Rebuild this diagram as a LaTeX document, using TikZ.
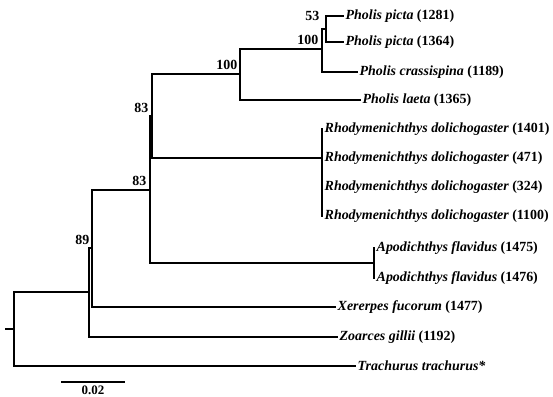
\documentclass[tikz,border=0pt]{standalone}
\usepackage{fontspec}
\setmainfont{Liberation Serif}
\begin{document}
\begin{tikzpicture}[x=1bp,y=-1bp,
  br/.style={line width=2.2bp,line cap=rect},
  tip/.style={anchor=west,inner sep=2.5bp,font=\fontsize{14}{15}\selectfont\bfseries},
  boot/.style={anchor=east,inner sep=0.5bp,font=\fontsize{14}{15}\selectfont\bfseries}]
\useasboundingbox (0,0) rectangle (553,396);
% internal nodes
\coordinate (stub) at (6,329);
\coordinate (root) at (14,329);
\coordinate (n89) at (89,292);
\coordinate (n92) at (92,248);
\coordinate (n83b) at (150,190);
\coordinate (n83a) at (152,116);
\coordinate (n100a) at (240,74);
\coordinate (n100b) at (322,49);
\coordinate (n53) at (326,29);
\coordinate (rho) at (322,158);
\coordinate (apo) at (374,263);
% tips
\node[tip] (pp1) at (343,16) {\textit{Pholis picta} (1281)};
\node[tip] (pp2) at (343,42) {\textit{Pholis picta} (1364)};
\node[tip] (pcr) at (357,72) {\textit{Pholis crassispina} (1189)};
\node[tip] (pla) at (360,100) {\textit{Pholis laeta} (1365)};
\node[tip] (r1) at (322,129) {\textit{Rhodymenichthys dolichogaster} (1401)};
\node[tip] (r2) at (322,158) {\textit{Rhodymenichthys dolichogaster} (471)};
\node[tip] (r3) at (322,187) {\textit{Rhodymenichthys dolichogaster} (324)};
\node[tip] (r4) at (322,216) {\textit{Rhodymenichthys dolichogaster} (1100)};
\node[tip] (a1) at (374,248) {\textit{Apodichthys flavidus} (1475)};
\node[tip] (a2) at (374,278) {\textit{Apodichthys flavidus} (1476)};
\node[tip] (xer) at (335,307) {\textit{Xererpes fucorum} (1477)};
\node[tip] (zoa) at (337,337) {\textit{Zoarces gillii} (1192)};
\node[tip] (tra) at (355,366) {\textit{Trachurus trachurus*}};
% branches
\draw[br] (stub) -- (root);
\draw[br] (root) |- (n89);
\draw[br] (root) |- (tra.west);
\draw[br] (n89) |- (n92);
\draw[br] (n89) |- (zoa.west);
\draw[br] (n92) |- (n83b);
\draw[br] (n92) |- (xer.west);
\draw[br] (n83b) |- (n83a);
\draw[br] (n83b) |- (apo);
\draw[br] (n83a) |- (n100a);
\draw[br] (n83a) |- (rho);
\draw[br] (n100a) |- (n100b);
\draw[br] (n100a) |- (pla.west);
\draw[br] (n100b) |- (n53);
\draw[br] (n100b) |- (pcr.west);
\draw[br] (n53) |- (pp1.west);
\draw[br] (n53) |- (pp2.west);
\draw[br] (rho) |- (r1.west);
\draw[br] (rho) |- (r4.west);
\draw[br] (apo) |- (a1.west);
\draw[br] (apo) |- (a2.west);
% bootstrap values
\node[boot] (b53) at (320,16) {53};
\node[boot] (b100b) at (319,40) {100};
\node[boot] (b100a) at (238,65) {100};
\node[boot] (b83a) at (149,108) {83};
\node[boot] (b83b) at (147,181) {83};
\node[boot] (b89) at (90,240) {89};
% scale bar
\coordinate (s1) at (62,382);
\coordinate (s2) at (124,382);
\draw[br] (s1) -- (s2);
\node[font=\fontsize{13}{14}\selectfont\bfseries,inner sep=0pt] (sl) at (93,390.5) {0.02};
\end{tikzpicture}
\end{document}
